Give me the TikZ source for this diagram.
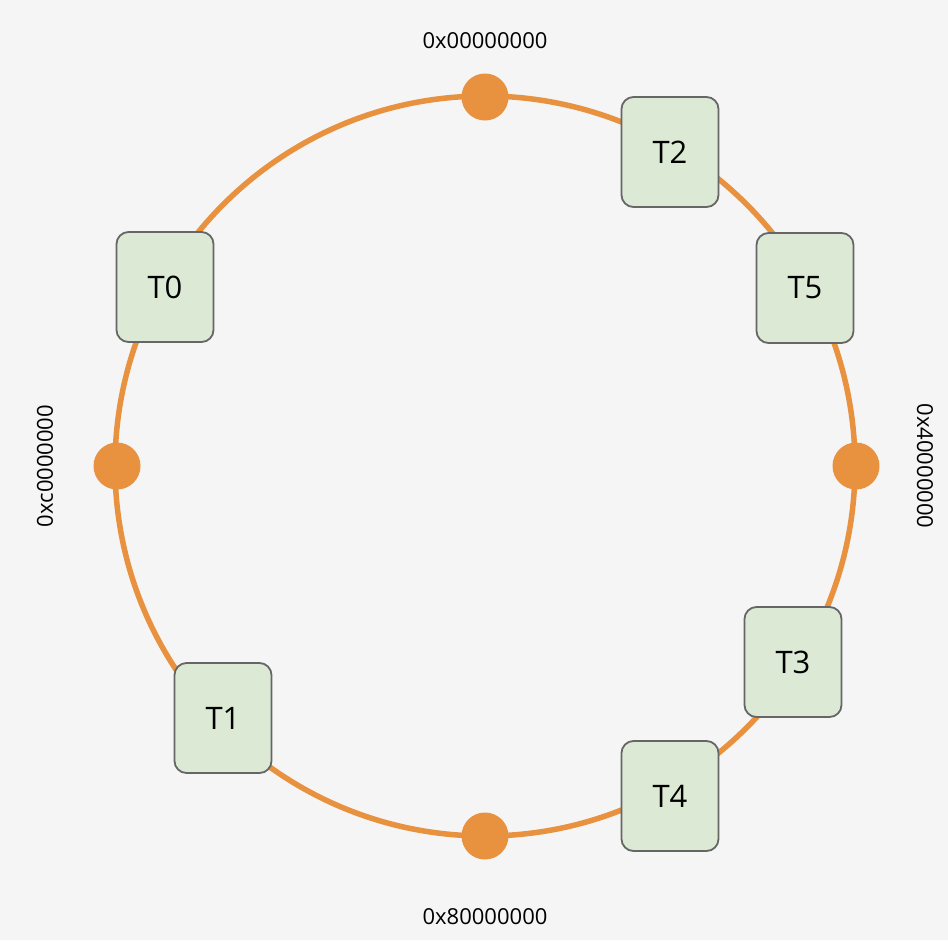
\documentclass[tikz,border=0pt]{standalone}
\usepackage{fontspec}
\setmainfont{Open Sans}
\usetikzlibrary{positioning}
\definecolor{ringorange}{HTML}{E8913F}
\definecolor{boxgreen}{HTML}{DCE9D5}
\definecolor{boxline}{HTML}{666666}
\definecolor{bgpaper}{HTML}{F5F5F5}
\tikzset{every picture/.style={line width=0.75pt}}

\begin{document}
\begin{tikzpicture}[x=1pt,y=-1pt,
    token/.style={draw=boxline, line width=1.8pt, fill=boxgreen, rounded corners=12pt,
        minimum width=97pt, minimum height=110pt, inner sep=0pt, font=\fontsize{31}{32}\selectfont},
    mark dot/.style={circle, fill=ringorange, minimum size=47pt, inner sep=0pt},
    hexlabel/.style={font=\fontsize{22}{24}\selectfont}]
        \fill[bgpaper] (0,0) rectangle (948,940);
        \useasboundingbox (0,0) rectangle (948,940);
        \coordinate (o) at (485,466);
        \draw[ringorange, line width=5.5pt] (o) circle (370pt);
        \node[mark dot] (top) at (485,97) {};
        \node[mark dot] (right) at (856,466) {};
        \node[mark dot] (bottom) at (485,836) {};
        \node[mark dot] (left) at (117,466) {};
        \node[hexlabel, above=21pt of top] (l0) {0x00000000};
        \node[hexlabel, below=45pt of bottom] (l8) {0x80000000};
        \node[hexlabel, rotate=-90, anchor=center] (l4) at (925,466) {0x40000000};
        \node[hexlabel, rotate=90, anchor=center] (lc) at (45,466) {0xc0000000};
        \node[token] (t0) at (165,287) {T0};
        \node[token] (t2) at (670,152) {T2};
        \node[token] (t5) at (805,288) {T5};
        \node[token] (t3) at (793,662) {T3};
        \node[token] (t4) at (670,796) {T4};
        \node[token] (t1) at (223,718) {T1};
    \end{tikzpicture}
\end{document}
